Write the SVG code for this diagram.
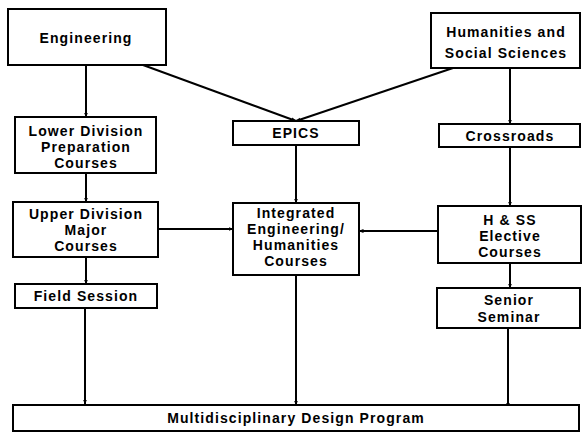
<svg xmlns="http://www.w3.org/2000/svg" width="583" height="437" viewBox="0 0 583 437">
<defs>
<marker id="arr" viewBox="0 0 10 10" refX="9" refY="5" markerWidth="5" markerHeight="5" orient="auto" markerUnits="userSpaceOnUse">
<path d="M0,1 L10,5 L0,9 z" fill="#000"/>
</marker>
</defs>
<style>
.box{fill:#fff;stroke:#000;stroke-width:2}
.t{font-family:"Liberation Sans",Arial,sans-serif;font-weight:bold;font-size:14px;text-anchor:middle;fill:#000;letter-spacing:1.1px}
.c{fill:none;stroke:#000;stroke-width:2;marker-end:url(#arr)}
</style>
<rect width="583" height="437" fill="#fff"/>
<g id="connectors">
<line class="c" x1="86" y1="65" x2="86" y2="117"/>
<line class="c" x1="143" y1="65" x2="296" y2="121"/>
<line class="c" x1="453" y1="68" x2="296" y2="121"/>
<line class="c" x1="510" y1="68" x2="510" y2="124"/>
<line class="c" x1="86" y1="173" x2="86" y2="202"/>
<line class="c" x1="296" y1="145" x2="296" y2="203"/>
<line class="c" x1="510" y1="147" x2="510" y2="206"/>
<line class="c" x1="158" y1="229" x2="233" y2="229"/>
<line class="c" x1="438" y1="231" x2="359" y2="231"/>
<line class="c" x1="86" y1="257" x2="86" y2="284"/>
<line class="c" x1="510" y1="263" x2="510" y2="288"/>
<line class="c" x1="85" y1="308" x2="85" y2="404"/>
<line class="c" x1="296" y1="275" x2="296" y2="405"/>
<line class="c" x1="508" y1="328" x2="508" y2="407"/>
</g>
<g id="engineering">
<rect class="box" x="8" y="9" width="158" height="56"/>
<text class="t" x="86" y="43">Engineering</text>
</g>
<g id="humanities">
<rect class="box" x="431" y="13" width="149" height="55"/>
<text class="t" x="506" y="37">Humanities and</text>
<text class="t" x="506" y="58">Social Sciences</text>
</g>
<g id="lower-division">
<rect class="box" x="15" y="117" width="141" height="56"/>
<text class="t" x="86" y="136">Lower Division</text>
<text class="t" x="86" y="152">Preparation</text>
<text class="t" x="86" y="168">Courses</text>
</g>
<g id="epics">
<rect class="box" x="233" y="121" width="126" height="24"/>
<text class="t" x="296" y="138">EPICS</text>
</g>
<g id="crossroads">
<rect class="box" x="439" y="124" width="141" height="23"/>
<text class="t" x="510" y="141">Crossroads</text>
</g>
<g id="upper-division">
<rect class="box" x="13" y="202" width="145" height="55"/>
<text class="t" x="86" y="219">Upper Division</text>
<text class="t" x="86" y="235">Major</text>
<text class="t" x="86" y="251">Courses</text>
</g>
<g id="integrated">
<rect class="box" x="233" y="203" width="126" height="72"/>
<text class="t" x="296" y="218">Integrated</text>
<text class="t" x="296" y="234">Engineering/</text>
<text class="t" x="296" y="250">Humanities</text>
<text class="t" x="296" y="266">Courses</text>
</g>
<g id="hss-elective">
<rect class="box" x="438" y="206" width="143" height="57"/>
<text class="t" x="510" y="225">H &amp; SS</text>
<text class="t" x="510" y="241">Elective</text>
<text class="t" x="510" y="257">Courses</text>
</g>
<g id="field-session">
<rect class="box" x="15" y="284" width="142" height="24"/>
<text class="t" x="86" y="301">Field Session</text>
</g>
<g id="senior-seminar">
<rect class="box" x="437" y="288" width="143" height="40"/>
<text class="t" x="509" y="305">Senior</text>
<text class="t" x="509" y="322">Seminar</text>
</g>
<g id="multidisciplinary">
<rect class="box" x="13" y="405" width="566" height="26"/>
<text class="t" x="296" y="423">Multidisciplinary Design Program</text>
</g>
</svg>
